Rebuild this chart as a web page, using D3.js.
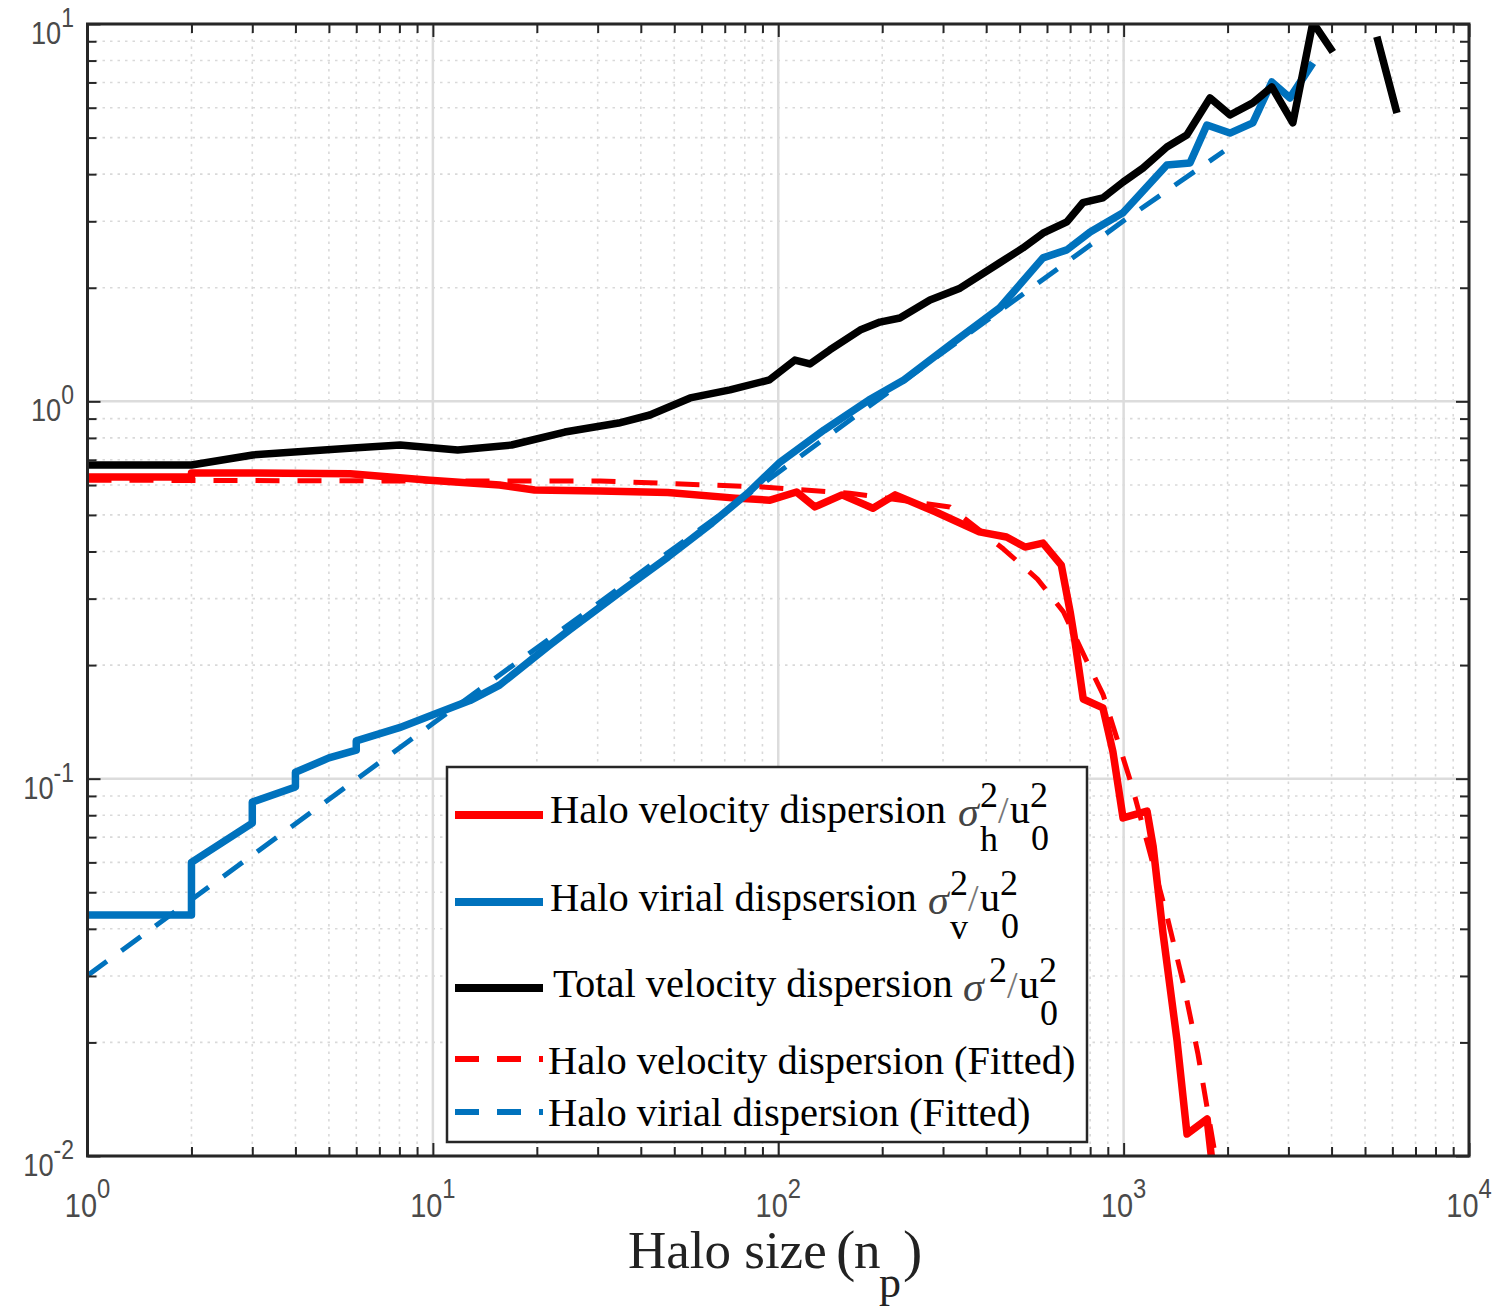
<!DOCTYPE html>
<html><head><meta charset="utf-8">
<script src="https://cdn.jsdelivr.net/npm/d3@7"></script>
<style>body{margin:0;background:#fff}</style>
</head><body><svg id="c" width="1496" height="1307"></svg>
<script>
// ---------------- data ----------------
const nHalo = [1, 2, 2, 2.96, 5.76, 9.8, 15.6, 19.7, 30.5, 47.9, 75.1, 94.7, 113, 127.6, 153, 188, 218, 286, 382, 458, 518, 584, 660, 700, 724, 764, 871, 931, 996, 1169, 1217, 1300, 1428, 1526, 1745, 1830];
const haloDisp = [0.630, 0.630, 0.646, 0.646, 0.643, 0.618, 0.600, 0.582, 0.579, 0.573, 0.554, 0.547, 0.575, 0.525, 0.565, 0.521, 0.565, 0.509, 0.451, 0.437, 0.411, 0.421, 0.368, 0.277, 0.229, 0.1626, 0.154, 0.118, 0.0787, 0.0820, 0.0663, 0.039, 0.0202, 0.01143, 0.01253, 0.0085];

const nVirial = [1, 2, 2, 3, 3, 4, 4, 5, 6, 6, 8, 10, 12.8, 15.6, 21.8, 24.9, 35.5, 48, 64.3, 81.6, 100.5, 135.6, 182.9, 231, 314, 438, 584, 685, 800, 996, 1334, 1556, 1742, 2032, 2366, 2686, 3030, 3532];
const virialDisp = [0.0435, 0.0435, 0.060, 0.0762, 0.0867, 0.095, 0.104, 0.1135, 0.119, 0.126, 0.1365, 0.1476, 0.161, 0.177, 0.226, 0.248, 0.316, 0.387, 0.476, 0.571, 0.686, 0.839, 1.008, 1.139, 1.41, 1.77, 2.40, 2.52, 2.81, 3.16, 4.23, 4.28, 5.40, 5.14, 5.47, 7.02, 6.37, 7.89];

const nTotal = [1, 2, 3.01, 5.87, 8.04, 11.8, 16.9, 24.1, 34.5, 42.5, 55.6, 72.5, 94.3, 111.7, 123.5, 141, 172.6, 197, 225, 275, 336, 438, 511, 584, 685, 762, 871, 996, 1137, 1334, 1524, 1778, 2032, 2366, 2686, 3090, 3532, 4035, 4700, 5410, 6185];
const totalDisp = [0.678, 0.678, 0.721, 0.752, 0.766, 0.743, 0.766, 0.829, 0.876, 0.920, 1.021, 1.072, 1.140, 1.286, 1.256, 1.368, 1.545, 1.622, 1.663, 1.855, 1.995, 2.33, 2.55, 2.79, 2.99, 3.36, 3.46, 3.81, 4.15, 4.72, 5.08, 6.37, 5.74, 6.18, 6.81, 5.47, 10.1, 8.43, null, 9.25, 5.81];

const nHaloFit = [1, 10, 30.5, 89.8, 161, 314, 449, 563, 669, 780, 872, 1058, 1333, 1493, 1642, 1830];
const haloFit = [0.618, 0.615, 0.615, 0.593, 0.571, 0.525, 0.406, 0.338, 0.277, 0.206, 0.167, 0.0955, 0.0435, 0.0284, 0.0186, 0.0104];

const nVirialFit = [1, 10, 100, 1000, 1950];
const virialFit = [0.0301, 0.140, 0.648, 3.01, 4.6];

const xMajor = [1, 10, 100, 1000, 10000];
const xExp = ["0", "1", "2", "3", "4"];
const yMajor = [0.01, 0.1, 1, 10];
const yExp = ["-2", "-1", "0", "1"];

const legendLabels = [
  "Halo velocity dispersion",
  "Halo virial dispsersion",
  "Total velocity dispersion",
  "Halo velocity dispersion (Fitted)",
  "Halo virial dispersion (Fitted)"
];
const xTitle = "Halo size";

// ---------------- layout ----------------
const X0 = 87.5, X1 = 1469, Y0 = 24, Y1 = 1156;
const svg = d3.select("#c");
svg.append("rect").attr("width", 1496).attr("height", 1307).attr("fill", "#fff");

const x = d3.scaleLog().domain([1, 1e4]).range([X0, X1]);
const y = d3.scaleLog().domain([1e-2, 1e1]).range([Y1, Y0]);

const isMajor = v => Math.abs(Math.log10(v) - Math.round(Math.log10(v))) < 1e-9;
const xMinor = x.ticks().filter(v => !isMajor(v));
const yMinor = y.ticks().filter(v => !isMajor(v));

// grid
const grid = svg.append("g");
grid.selectAll(".gxm").data(xMinor).join("line")
  .attr("x1", d => x(d)).attr("x2", d => x(d)).attr("y1", Y0).attr("y2", Y1)
  .attr("stroke", "#d9d9d9").attr("stroke-width", 1.6).attr("stroke-dasharray", "2.5,5");
grid.selectAll(".gym").data(yMinor).join("line")
  .attr("y1", d => y(d)).attr("y2", d => y(d)).attr("x1", X0).attr("x2", X1)
  .attr("stroke", "#d9d9d9").attr("stroke-width", 1.6).attr("stroke-dasharray", "2.5,5");
grid.selectAll(".gxM").data(xMajor).join("line")
  .attr("x1", d => x(d)).attr("x2", d => x(d)).attr("y1", Y0).attr("y2", Y1)
  .attr("stroke", "#dcdcdc").attr("stroke-width", 2.5);
grid.selectAll(".gyM").data(yMajor).join("line")
  .attr("y1", d => y(d)).attr("y2", d => y(d)).attr("x1", X0).attr("x2", X1)
  .attr("stroke", "#dcdcdc").attr("stroke-width", 2.5);

// clip
svg.append("clipPath").attr("id", "clip").append("rect")
  .attr("x", X0).attr("y", Y0).attr("width", X1 - X0).attr("height", Y1 - Y0);
const plot = svg.append("g").attr("clip-path", "url(#clip)");

const line = d3.line().defined(d => d[1] != null).x(d => x(d[0])).y(d => y(d[1]));
const zip = (a, b) => a.map((v, i) => [v, b[i]]);

const series = [
  {data: zip(nHalo, haloDisp), color: "#ff0000", w: 7.5, dash: null},
  {data: zip(nVirial, virialDisp), color: "#0072bd", w: 7.5, dash: null},
  {data: zip(nTotal, totalDisp), color: "#000000", w: 7.5, dash: null},
  {data: zip(nHaloFit, haloFit), color: "#ff0000", w: 5, dash: "24,18"},
  {data: zip(nVirialFit, virialFit), color: "#0072bd", w: 5, dash: "24,18"}
];
series.forEach(s => {
  plot.append("path").attr("d", line(s.data)).attr("fill", "none")
    .attr("stroke", s.color).attr("stroke-width", s.w)
    .attr("stroke-linejoin", "round")
    .attr("stroke-dasharray", s.dash);
});

// axes ticks (inward, all four sides)
function ticks(axisFn, vals, len, tr) {
  const g = svg.append("g").attr("transform", tr)
    .call(axisFn.tickValues(vals).tickSize(-len).tickFormat(""));
  g.select(".domain").remove();
  g.selectAll(".tick line").attr("stroke", "#262626").attr("stroke-width", 2);
}
ticks(d3.axisBottom(x), xMinor, 9, `translate(0,${Y1})`);
ticks(d3.axisBottom(x), xMajor, 13, `translate(0,${Y1})`);
ticks(d3.axisTop(x), xMinor, 9, `translate(0,${Y0})`);
ticks(d3.axisTop(x), xMajor, 13, `translate(0,${Y0})`);
ticks(d3.axisLeft(y), yMinor, 9, `translate(${X0},0)`);
ticks(d3.axisLeft(y), yMajor, 13, `translate(${X0},0)`);
ticks(d3.axisRight(y), yMinor, 9, `translate(${X1},0)`);
ticks(d3.axisRight(y), yMajor, 13, `translate(${X1},0)`);

svg.append("rect").attr("x", X0).attr("y", Y0).attr("width", X1 - X0).attr("height", Y1 - Y0)
  .attr("fill", "none").attr("stroke", "#262626").attr("stroke-width", 3);

// tick labels
const lblColor = "#4a4a4a";
xMajor.forEach((v, i) => {
  const g = svg.append("g").attr("transform", `translate(${x(v)},1217) scale(0.85,1)`);
  const t = g.append("text").attr("text-anchor", "middle")
    .attr("font-family", "Liberation Sans, Arial, sans-serif").attr("fill", lblColor)
    .attr("font-size", 34);
  t.append("tspan").text("10");
  t.append("tspan").attr("font-size", 28).attr("dy", -19).text(xExp[i]);
});
yMajor.forEach((v, i) => {
  const g = svg.append("g").attr("transform", `translate(74,${y(v) + 20}) scale(0.85,1)`);
  const t = g.append("text").attr("text-anchor", "end")
    .attr("font-family", "Liberation Sans, Arial, sans-serif").attr("fill", lblColor)
    .attr("font-size", 32);
  t.append("tspan").text("10");
  t.append("tspan").attr("font-size", 27).attr("dy", -17).text(yExp[i]);
});

// x title
const serif = "Liberation Serif, Times New Roman, serif";
const xt = svg.append("g").attr("font-family", serif).attr("fill", "#222").attr("font-size", 53);
xt.append("text").attr("x", 628).attr("y", 1268).text(xTitle);
xt.append("text").attr("x", 836).attr("y", 1270).attr("font-size", 58).text("(");
xt.append("text").attr("x", 854).attr("y", 1268).text("n");
xt.append("text").attr("x", 879).attr("y", 1297).attr("font-size", 44).text("p");
xt.append("text").attr("x", 903).attr("y", 1270).attr("font-size", 58).text(")");

// legend
const lg = svg.append("g");
lg.append("rect").attr("x", 447).attr("y", 767).attr("width", 640).attr("height", 375)
  .attr("fill", "#fff").attr("stroke", "#262626").attr("stroke-width", 2.5);
const rowLineY = [815, 902, 988, 1059, 1112];
const rowTextY = [823, 911, 997, 1074, 1126];
const rowTextX = [550, 550, 553, 548, 548];
series.forEach((s, i) => {
  lg.append("line").attr("x1", 455).attr("x2", 543).attr("y1", rowLineY[i]).attr("y2", rowLineY[i])
    .attr("stroke", s.color).attr("stroke-width", s.dash ? 6 : 8)
    .attr("stroke-dasharray", s.dash);
  lg.append("text").attr("x", rowTextX[i]).attr("y", rowTextY[i])
    .attr("font-family", serif).attr("font-size", 40.5).attr("fill", "#000")
    .text(legendLabels[i]);
});

function mathLabel(x0, b, sub) {
  const g = lg.append("g").attr("font-family", serif).attr("fill", "#000");
  g.append("text").attr("x", x0).attr("y", b).attr("font-size", 42).attr("font-style", "italic")
    .attr("fill", "#444").text("σ");
  const off = sub ? 22 : 26;
  g.append("text").attr("x", x0 + off).attr("y", b - 19).attr("font-size", 36).text("2");
  if (sub) g.append("text").attr("x", x0 + off).attr("y", b + 25).attr("font-size", 36).text(sub);
  g.append("text").attr("x", x0 + off + 18).attr("y", b - 3).attr("font-size", 38).attr("fill", "#777").text("/");
  g.append("text").attr("x", x0 + off + 30).attr("y", b - 3).attr("font-size", 40).text("u");
  g.append("text").attr("x", x0 + off + 50).attr("y", b - 19).attr("font-size", 36).text("2");
  g.append("text").attr("x", x0 + off + 51).attr("y", b + 24).attr("font-size", 36).text("0");
}
mathLabel(958, 826, "h");
mathLabel(928, 914, "v");
mathLabel(963, 1001, null);
</script></body></html>
